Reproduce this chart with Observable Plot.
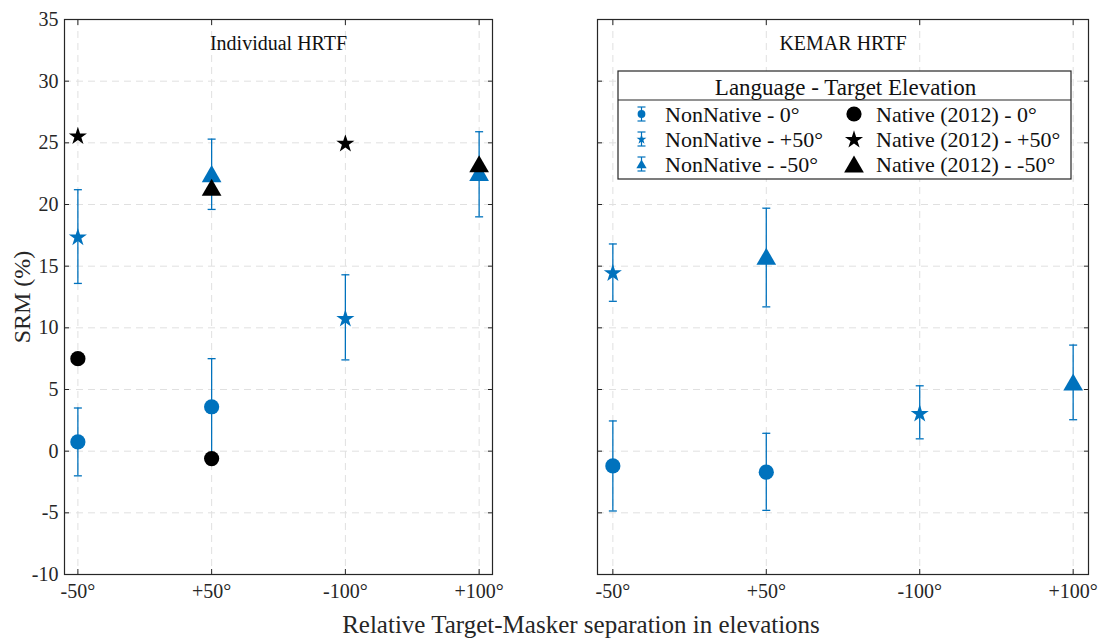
<!DOCTYPE html>
<html>
<head>
<meta charset="utf-8">
<script src="https://cdn.jsdelivr.net/npm/d3@7"></script>
<script src="https://cdn.jsdelivr.net/npm/@observablehq/plot@0.6"></script>
<style>
  html, body { margin: 0; padding: 0; background: #fff; }
  #root { position: relative; width: 1101px; height: 638px; overflow: hidden; font-family: "Liberation Serif", serif; }
  #root svg { position: absolute; overflow: visible; }
  .xlabel { position: absolute; left: 181px; width: 800px; top: 611px; text-align: center; font-size: 25px; color: #262626; line-height: 28px; }
</style>
</head>
<body>
<div id="root"></div>
<script>
// ---- data ----
const categories = ["-50°", "+50°", "-100°", "+100°"];
const yTicks = [-10, -5, 0, 5, 10, 15, 20, 25, 30, 35];
const panelTitles = ["Individual HRTF", "KEMAR HRTF"];
const yLabel = "SRM (%)";
const xLabel = "Relative Target-Masker separation in elevations";
const elevations = ["0°", "+50°", "-50°"];

// Individual HRTF, NonNative (mean and error-bar bounds)
const indivNNCat  = ["-50°", "-50°", "+50°", "+50°", "-100°", "+100°"];
const indivNNElev = ["0°", "+50°", "0°", "-50°", "+50°", "-50°"];
const indivNNMean = [0.75, 17.4, 3.6, 22.5, 10.8, 22.6];
const indivNNLo   = [-2.0, 13.6, -0.3, 19.6, 7.4, 19.0];
const indivNNHi   = [3.5, 21.2, 7.5, 25.3, 14.3, 25.9];

// Individual HRTF, Native (2012)
const indivNatCat  = ["-50°", "-50°", "+50°", "+50°", "-100°", "+100°"];
const indivNatElev = ["0°", "+50°", "0°", "-50°", "+50°", "-50°"];
const indivNatMean = [7.5, 25.6, -0.6, 21.4, 25.0, 23.3];

// KEMAR HRTF, NonNative
const kemarNNCat  = ["-50°", "-50°", "+50°", "+50°", "-100°", "+100°"];
const kemarNNElev = ["0°", "+50°", "0°", "-50°", "+50°", "-50°"];
const kemarNNMean = [-1.2, 14.5, -1.7, 15.8, 3.1, 5.6];
const kemarNNLo   = [-4.85, 12.15, -4.8, 11.7, 1.0, 2.55];
const kemarNNHi   = [2.45, 16.8, 1.45, 19.7, 5.3, 8.6];

const legendTitle = "Language - Target Elevation";
const legendNN  = ["NonNative - 0°", "NonNative - +50°", "NonNative - -50°"];
const legendNat = ["Native (2012) - 0°", "Native (2012) - +50°", "Native (2012) - -50°"];

// ---- styles ----
const BLUE = "#0072BD";
const AX = "#262626";
const GRID = "#e0e0e0";
const FONT = "Liberation Serif, serif";
const symFor = {"0°": "circle", "+50°": "star", "-50°": "triangle2"};
const rFor   = {"0°": 7.6, "+50°": 5.7, "-50°": 9.4};
const dyFor  = {"0°": 0, "+50°": 0.9, "-50°": 2.8};
const capSym = {draw(ctx) { ctx.moveTo(-4, 0); ctx.lineTo(4, 0); }};

function rows(cat, elev, mean, lo, hi) {
  return cat.map((c, i) => ({x: categories.indexOf(c) + 1, elev: elev[i], mean: mean[i],
    lo: lo ? lo[i] : null, hi: hi ? hi[i] : null}));
}
const xVals = categories.map((c, i) => i + 1);

function markerMarks(data, color) {
  return elevations.map(e => Plot.dot(data.filter(d => d.elev === e), {
    x: "x", y: "mean", symbol: symFor[e], r: rFor[e], dy: dyFor[e], fill: color, stroke: "none"
  }));
}

function panel({width, marginLeft, marginRight, yLabels, title, nn, nat}) {
  return Plot.plot({
    width, height: 638, marginTop: 19, marginBottom: 64, marginLeft, marginRight,
    style: {fontFamily: FONT, fontSize: "20px", color: AX, background: "transparent", overflow: "visible"},
    x: {type: "linear", domain: [0.9, 4.1]},
    y: {type: "linear", domain: [-10, 35]},
    marks: [
      Plot.gridX(xVals, {stroke: GRID, strokeOpacity: 1, strokeDasharray: "7,5", strokeWidth: 1}),
      Plot.gridY(yTicks, {stroke: GRID, strokeOpacity: 1, strokeDasharray: "7,5", strokeWidth: 1}),
      Plot.axisX(xVals, {anchor: "bottom", tickSize: 0, tickPadding: 9, tickFormat: i => categories[i - 1], label: null, fontSize: 20}),
      Plot.axisX(xVals, {anchor: "bottom", tickSize: -5, tickFormat: () => "", label: null, stroke: AX}),
      Plot.axisX(xVals, {anchor: "top", tickSize: -5, tickFormat: () => "", label: null, stroke: AX}),
      yLabels ? Plot.axisY(yTicks, {anchor: "left", tickSize: 0, tickPadding: 6, tickFormat: d => String(d), label: null, fontSize: 20}) : null,
      yLabels ? Plot.text([yLabel], {frameAnchor: "left", dx: -42, rotate: -90, text: d => d, fontSize: 24,
        fill: AX, textAnchor: "middle", lineAnchor: "middle"}) : null,
      Plot.axisY(yTicks, {anchor: "left", tickSize: -5, tickFormat: () => "", label: null, stroke: AX}),
      Plot.axisY(yTicks, {anchor: "right", tickSize: -5, tickFormat: () => "", label: null, stroke: AX}),
      Plot.frame({stroke: AX, strokeWidth: 1.2}),
      Plot.text([title], {frameAnchor: "top", dy: 24, lineAnchor: "middle", text: d => d, fontSize: 20, fill: "#111"}),
      Plot.ruleX(nn, {x: "x", y1: "lo", y2: "hi", stroke: BLUE, strokeWidth: 1.3}),
      Plot.dot(nn, {x: "x", y: "lo", symbol: capSym, r: 4, stroke: BLUE, fill: "none", strokeWidth: 1.3}),
      Plot.dot(nn, {x: "x", y: "hi", symbol: capSym, r: 4, stroke: BLUE, fill: "none", strokeWidth: 1.3}),
      ...markerMarks(nn, BLUE),
      ...(nat ? markerMarks(nat, "#000") : [])
    ]
  });
}

const root = document.getElementById("root");

const left = panel({
  width: 500, marginLeft: 64, marginRight: 8, yLabels: true, title: panelTitles[0],
  nn: rows(indivNNCat, indivNNElev, indivNNMean, indivNNLo, indivNNHi),
  nat: rows(indivNatCat, indivNatElev, indivNatMean)
});
left.style.left = "0px"; left.style.top = "0px";
root.appendChild(left);

const right = panel({
  width: 511, marginLeft: 7, marginRight: 13, yLabels: false, title: panelTitles[1],
  nn: rows(kemarNNCat, kemarNNElev, kemarNNMean, kemarNNLo, kemarNNHi),
  nat: null
});
right.style.left = "590px"; right.style.top = "0px";
root.appendChild(right);

// ---- legend ----
const L = {x: 618, y: 71, w: 453, h: 108, titleH: 29};
const LFS = "22px";
const leg = d3.select(root).append("svg")
  .attr("width", L.w + 2).attr("height", L.h + 2)
  .style("left", (L.x - 1) + "px").style("top", (L.y - 1) + "px");
const g = leg.append("g").attr("transform", "translate(1,1)");
g.append("rect").attr("width", L.w).attr("height", L.h).attr("fill", "#fff").attr("stroke", AX).attr("stroke-width", 1.2);
g.append("line").attr("x1", 0).attr("x2", L.w).attr("y1", L.titleH).attr("y2", L.titleH).attr("stroke", AX).attr("stroke-width", 1.2);
g.append("text").attr("x", L.w / 2 + 1).attr("y", L.titleH / 2 + 1).attr("dy", "0.35em").attr("text-anchor", "middle")
  .style("font-family", FONT).style("font-size", "23px").attr("fill", "#111").text(legendTitle);
const rowY = [43, 68, 93];
const d3Sym = {"0°": d3.symbolCircle, "+50°": d3.symbolStar, "-50°": d3.symbolTriangle2};
elevations.forEach((e, i) => {
  // NonNative mini errorbar marker
  const mx = 23.5, my = rowY[i];
  g.append("line").attr("x1", mx).attr("x2", mx).attr("y1", my - 7).attr("y2", my + 7).attr("stroke", BLUE).attr("stroke-width", 1.2);
  g.append("line").attr("x1", mx - 4).attr("x2", mx + 4).attr("y1", my - 7).attr("y2", my - 7).attr("stroke", BLUE).attr("stroke-width", 1.2);
  g.append("line").attr("x1", mx - 4).attr("x2", mx + 4).attr("y1", my + 7).attr("y2", my + 7).attr("stroke", BLUE).attr("stroke-width", 1.2);
  const small = {"0°": 3.9, "+50°": 3.1, "-50°": 4.9}[e];
  g.append("path").attr("d", d3.symbol(d3Sym[e], Math.PI * small * small)())
    .attr("transform", `translate(${mx},${my + dyFor[e] / 2})`).attr("fill", BLUE);
  g.append("text").attr("x", 47).attr("y", my).attr("dy", "0.35em")
    .style("font-family", FONT).style("font-size", LFS).attr("fill", "#111").text(legendNN[i]);
  // Native marker
  const nx = 236;
  g.append("path").attr("d", d3.symbol(d3Sym[e], Math.PI * rFor[e] * rFor[e])())
    .attr("transform", `translate(${nx},${my + dyFor[e]})`).attr("fill", "#000");
  g.append("text").attr("x", 258).attr("y", my).attr("dy", "0.35em")
    .style("font-family", FONT).style("font-size", LFS).attr("fill", "#111").text(legendNat[i]);
});

// ---- shared x label ----
const xl = document.createElement("div");
xl.className = "xlabel";
xl.textContent = xLabel;
root.appendChild(xl);
</script>
</body>
</html>
